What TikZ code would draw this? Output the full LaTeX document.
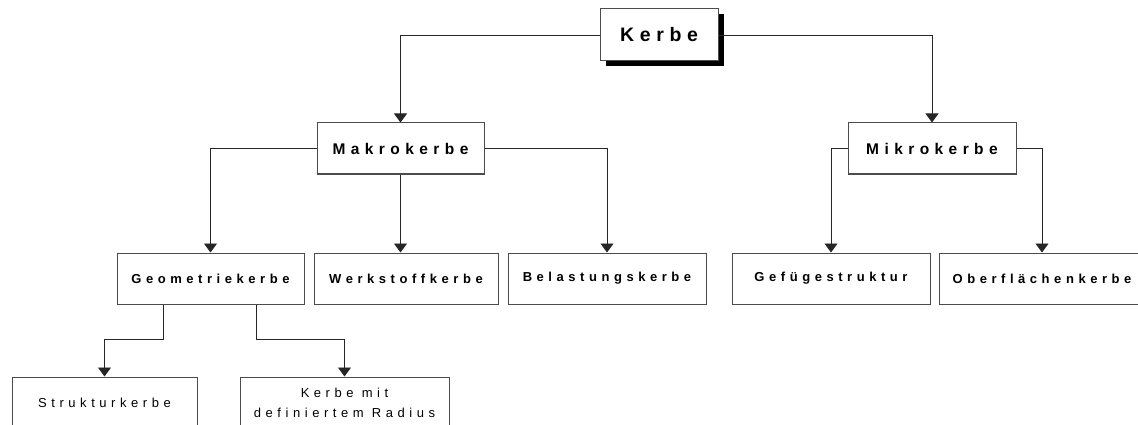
\documentclass[tikz,border=0pt]{standalone}
\usepackage{fontspec}
\setmainfont{Liberation Sans}
\newfontfamily\spaced[LetterSpace=35]{Liberation Sans}
\newfontfamily\rootfont[LetterSpace=29]{Liberation Sans}
\usetikzlibrary{arrows.meta,shadows,calc}
\tikzset{
  box/.style={draw=black!70, line width=1pt, fill=white, inner sep=0pt,
              align=center},
  rootbox/.style={box, minimum width=118pt, minimum height=52pt,
              font=\fontsize{19.5}{22}\selectfont\rootfont\bfseries,
              drop shadow={shadow xshift=6pt, shadow yshift=-5pt, fill=black, opacity=1}},
  midbox/.style={box, minimum height=51pt,
              font=\fontsize{15.5}{18}\selectfont\spaced\bfseries},
  catbox/.style={box, minimum height=51pt,
              font=\fontsize{13}{15}\selectfont\spaced\bfseries},
  leafbox/.style={box, minimum height=51pt,
              font=\fontsize{13}{20}\selectfont\spaced},
  conn/.style={line width=0.9pt, draw=black!85,
               -{Triangle[width=13pt,length=9pt]}},
}
\begin{document}
\begin{tikzpicture}[x=1pt,y=-1pt]
\clip (0,0) rectangle (1138,425);
\fill[white] (0,0) rectangle (1138,425);

% root
\node[rootbox] (kerbe) at (659,35) {Kerbe};

% second level
\node[midbox, minimum width=167pt] (makro) at (400.5,148.5) {Makrokerbe};
\node[midbox, minimum width=168pt] (mikro) at (932,148.5)   {Mikrokerbe};

% third level
\node[catbox, minimum width=187pt] (geo)  at (210.5,278.5) {Geometriekerbe};
\node[catbox, minimum width=184pt] (werk) at (406,278.5)   {Werkstoffkerbe};
\node[catbox, minimum width=198pt] (bel)  at (607,278.5)   {Belastungskerbe};
\node[catbox, minimum width=198pt] (gef)  at (831,278.5)   {Gefügestruktur};
\node[catbox, minimum width=206pt] (ober) at (1042,278.5)  {Oberflächenkerbe};

% fourth level
\node[leafbox, minimum width=185pt] (struk) at (104.5,402.5) {Strukturkerbe};
\node[leafbox, minimum width=209pt] (rad)   at (344.5,402.5) {Kerbe mit\\definiertem Radius};

% connectors
\draw[conn] (kerbe.west) -| (makro.north);
\draw[conn] (kerbe.east) -| (mikro.north);
\draw[conn] (makro.west) -| (geo.north);
\draw[conn] (makro.south) -- (makro.south |- werk.north);
\draw[conn] (makro.east) -| (bel.north);
\draw[conn] (mikro.west) -| (gef.north);
\draw[conn] (mikro.east) -| (ober.north);

\coordinate (g1) at ($(geo.south west)+(47,0)$);
\coordinate (g2) at ($(geo.south west)+(140,0)$);
\draw[conn] (g1) -- ++(0,35) -| (struk.north);
\draw[conn] (g2) -- ++(0,35) -| (rad.north);
\end{tikzpicture}
\end{document}
